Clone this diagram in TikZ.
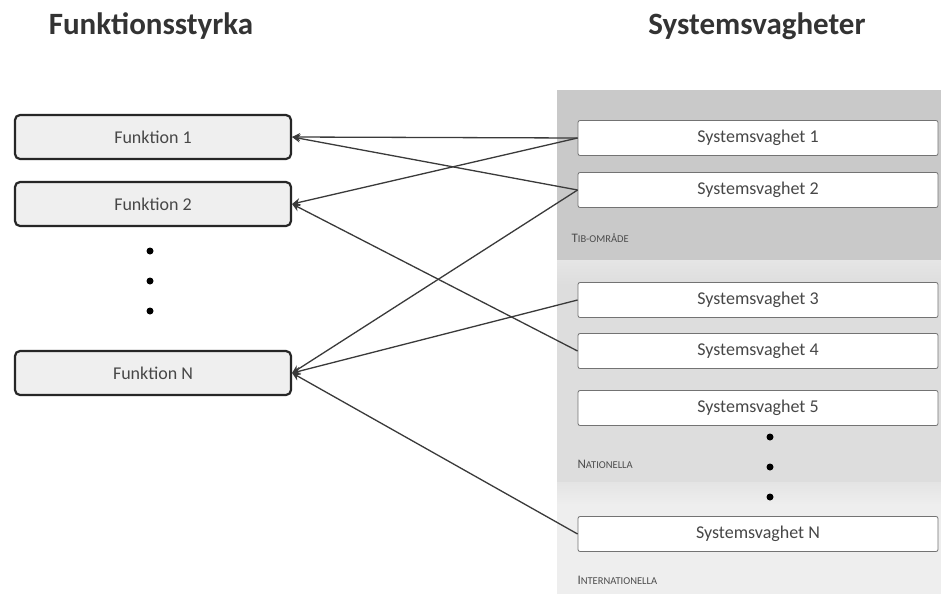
\documentclass[tikz,border=0pt]{standalone}
\usepackage{fontspec}
\setmainfont{Carlito}
\usetikzlibrary{arrows.meta}
\definecolor{bandA}{HTML}{C9C9C9}
\definecolor{bandB}{HTML}{DDDDDD}
\definecolor{bandC}{HTML}{EEEEEE}
\definecolor{funcfill}{HTML}{EFEFEF}
\definecolor{wire}{HTML}{3A3A3A}
% hand-made small capitals for the band captions
\newcommand{\capsword}[2]{{\fontsize{13}{14}\selectfont #1}{\fontsize{10.5}{14}\selectfont #2}}
\begin{document}
\begin{tikzpicture}[x=1pt,y=-1pt,
  title/.style={font=\bfseries\fontsize{31}{34}\selectfont, text=black!80},
  funcbox/.style={draw=black!85, line width=2.2pt, rounded corners=5pt, fill=funcfill,
    minimum width=276pt, minimum height=44pt, inner sep=0pt, font=\fontsize{18}{20}\selectfont, text=black!72},
  weakbox/.style={draw=black!55, line width=0.8pt, rounded corners=2pt, fill=white,
    minimum width=360pt, minimum height=35pt, inner sep=0pt, font=\fontsize{18}{20}\selectfont, text=black!72},
  bandlabel/.style={anchor=west, text=black!70},
  dot/.style={circle, fill=black, inner sep=0pt, minimum size=7pt},
  link/.style={draw=wire, line width=1.3pt, -{Stealth[length=8pt,width=8pt]}}]
\useasboundingbox (0,0) rectangle (941,594);
\fill[white] (0,0) rectangle (941,594);

% background bands behind the weaknesses
\fill[bandA] (557,90) rectangle (941,260);
\shade[top color=bandB!50!bandC, bottom color=bandB] (557,260) rectangle (941,285);
\fill[bandB] (557,285) rectangle (941,482);
\shade[top color=bandB!60!bandC, bottom color=bandC] (557,482) rectangle (941,505);
\fill[bandC] (557,505) rectangle (941,594);

% column titles
\node[title] (tf) at (151,26) {Funktionsstyrka};
\node[title] (ts) at (757,26) {Systemsvagheter};

% functions
\node[funcbox] (f1) at (153,137) {Funktion 1};
\node[funcbox] (f2) at (153,204) {Funktion 2};
\node[funcbox] (fn) at (153,373) {Funktion N};
\node[dot] (fd1) at (150,251) {};
\node[dot] (fd2) at (150,281) {};
\node[dot] (fd3) at (150,311) {};

% weaknesses
\node[weakbox] (s1) at (758,138) {Systemsvaghet 1};
\node[weakbox] (s2) at (758,190) {Systemsvaghet 2};
\node[weakbox] (s3) at (758,300) {Systemsvaghet 3};
\node[weakbox] (s4) at (758,351) {Systemsvaghet 4};
\node[weakbox] (s5) at (758,408) {Systemsvaghet 5};
\node[weakbox] (sn) at (758,534) {Systemsvaghet N};
\node[dot] (sd1) at (770,437) {};
\node[dot] (sd2) at (770,467) {};
\node[dot] (sd3) at (770,497) {};

% band labels
\node[bandlabel] (la) at (568,238) {\capsword{T}{IB-OMRÅDE}};
\node[bandlabel] (lb) at (574,464) {\capsword{N}{ATIONELLA}};
\node[bandlabel] (lc) at (574,580) {\capsword{I}{NTERNATIONELLA}};

% links from weaknesses to functions
\draw[link] (s1.west) -- (f1.east);
\draw[link] (s2.west) -- (f1.east);
\draw[link] (s1.west) -- (f2.east);
\draw[link] (s4.west) -- (f2.east);
\draw[link] (s2.west) -- (fn.east);
\draw[link] (s3.west) -- (fn.east);
\draw[link] (sn.west) -- (fn.east);
\end{tikzpicture}
\end{document}
